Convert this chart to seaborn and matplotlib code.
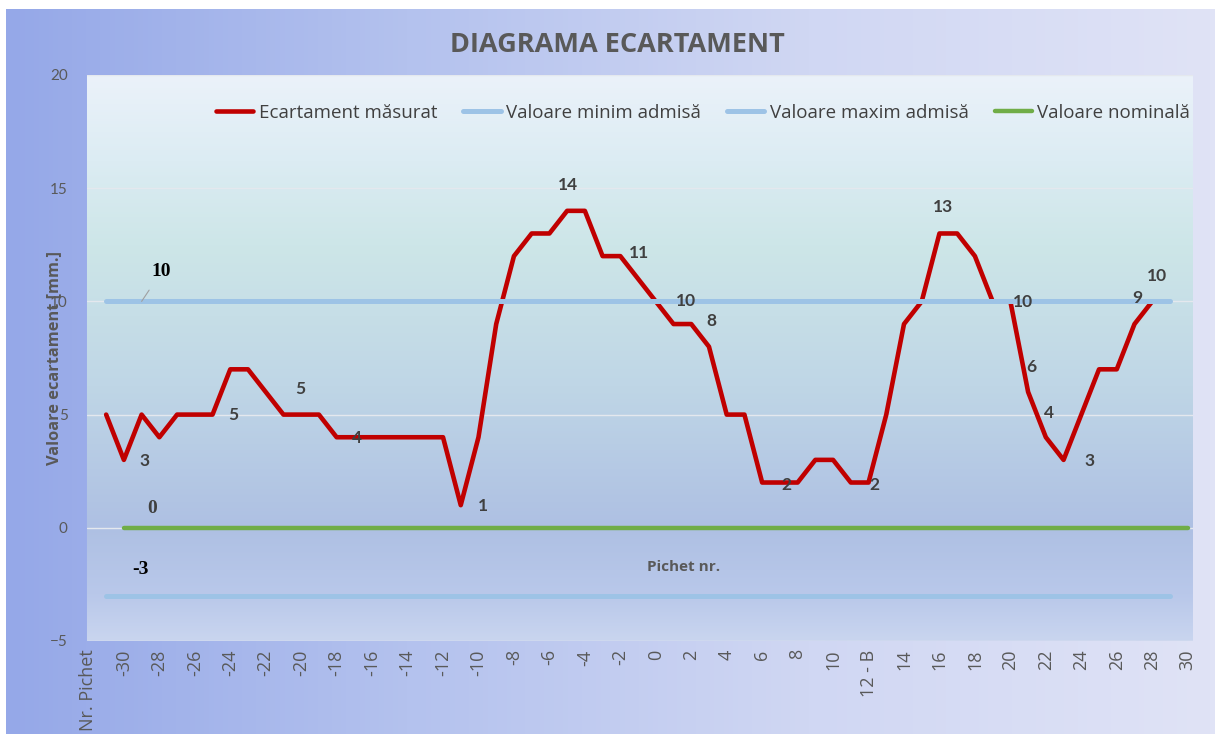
import numpy as np
import pandas as pd
import seaborn as sns
import matplotlib.pyplot as plt
from matplotlib.colors import LinearSegmentedColormap

# categories on the x axis (index 1 is not labelled in the original)
pichet = ["Nr. Pichet"] + [str(k) for k in range(-31, 12)] + ["12 - B"] + [str(k) for k in range(13, 31)]

measured = [5, 3, 5, 4, 5, 5, 5, 7, 7, 6, 5, 5, 5, 4,
            4, 4, 4, 4, 4, 4,
            1, 4, 9, 12, 13, 13, 14, 14, 12, 12, 11, 10, 9, 9, 8, 5, 5,
            2, 2, 2, 3, 3, 2, 2, 5, 9, 10, 13, 13, 12, 10, 10,
            6, 4, 3, 5, 7, 7, 9, 10]
min_admis = -3
max_admis = 10
nominal = 0

series_names = ["Ecartament măsurat", "Valoare minim admisă",
                "Valoare maxim admisă", "Valoare nominală"]

pos = np.arange(len(pichet))
df_meas = pd.DataFrame({"x": pos[1:61], "y": measured})
df_min = pd.DataFrame({"x": pos[1:62], "y": [min_admis] * 61})
df_max = pd.DataFrame({"x": pos[1:62], "y": [max_admis] * 61})
df_nom = pd.DataFrame({"x": pos[2:63], "y": [nominal] * 61})

sns.set_style("white")
plt.rcParams["font.family"] = ["Lato", "DejaVu Sans"]
wide = ["Open Sans", "DejaVu Sans"]

W, H = 1215, 734
fig = plt.figure(figsize=(W / 100, H / 100), dpi=100)
fig.patch.set_facecolor("white")

# figure background: horizontal gradient
bg = fig.add_axes([6 / W, 0, 1 - 6 / W, 1 - 9 / H], zorder=-10)
bg_cmap = LinearSegmentedColormap.from_list("bg", ["#95a8e8", "#b4c2ee", "#d0d7f3", "#e0e3f6"])
bg.imshow(np.linspace(0, 1, 256)[None, :], cmap=bg_cmap, aspect="auto", extent=[0, 1, 0, 1])
bg.set_axis_off()

# plot area
ax = fig.add_axes([87 / W, (H - 641) / H, (1193 - 87) / W, (641 - 75) / H])
xlim = (-0.08, 62.3)
ylim = (-5, 20)
pa_cmap = LinearSegmentedColormap.from_list(
    "pa", [(0.0, "#c9d5ef"), (0.08, "#b9c8ea"), (0.2, "#aec0e3"),
           (0.45, "#bfd6e6"), (0.7, "#cde6e8"), (0.85, "#dcecf3"), (1.0, "#ebf2fa")])
ax.imshow(np.linspace(0, 1, 256)[:, None], cmap=pa_cmap, origin="lower", aspect="auto",
          extent=[xlim[0], xlim[1], ylim[0], ylim[1]], zorder=0)

ax.yaxis.grid(True, color="#e4e8ee", lw=1, zorder=1)
ax.set_axisbelow(True)

sns.lineplot(data=df_meas, x="x", y="y", ax=ax, color="#c00000", lw=3.3,
             label=series_names[0], zorder=3, solid_capstyle="round", solid_joinstyle="round")
sns.lineplot(data=df_min, x="x", y="y", ax=ax, color="#9dc3e6", lw=3.6,
             label=series_names[1], zorder=3, solid_capstyle="round")
sns.lineplot(data=df_max, x="x", y="y", ax=ax, color="#9dc3e6", lw=3.6,
             label=series_names[2], zorder=3, solid_capstyle="round")
sns.lineplot(data=df_nom, x="x", y="y", ax=ax, color="#70ad47", lw=3.2,
             label=series_names[3], zorder=3, solid_capstyle="round")

ax.set_xlim(*xlim)
ax.set_ylim(*ylim)
for s in ax.spines.values():
    s.set_visible(False)

ax.set_yticks(range(-5, 21, 5))
ax.set_xticks(pos[::2])
ax.set_xticklabels(pichet[::2], rotation=90, va="top", ha="center")
ax.tick_params(axis="both", length=0, colors="#595959")
ax.tick_params(axis="x", pad=6, labelsize=13, labelfontfamily="Open Sans")
ax.tick_params(axis="y", pad=14, labelsize=11)
ax.set_xlabel("")
ax.set_ylabel("")

# data labels of the measured series: (index, dx px, dy px)
red_labels = [(2, 21, -1), (7, 21, 0), (12, -1, 26), (14, 20, -1), (21, 22, -1),
              (27, 1, 26), (31, 1, 26), (32, 30, 0), (35, 2, 26), (38, 24, -2),
              (44, 6, -2), (48, 4, 26), (52, 13, -1), (53, 3, 25), (54, 3, 24),
              (55, 26, -1), (59, 3, 26), (60, 5, 25)]
for i, dx, dy in red_labels:
    v = measured[i - 1]
    ax.annotate(str(v), (i, v), xytext=(dx, dy), textcoords="offset pixels",
                ha="center", va="center", fontsize=12.5, fontweight="bold",
                color="#404040", zorder=5)

# labels of the limit lines
ax.annotate(str(max_admis), (3, max_admis), xytext=(20, 30), textcoords="offset pixels",
            ha="center", va="center", fontsize=14, fontweight="bold", color="black",
            family="Liberation Serif", zorder=5,
            arrowprops=dict(arrowstyle="-", color="#a0a0a0", lw=0.8, shrinkA=6, shrinkB=0))
ax.annotate(str(nominal), (3, nominal), xytext=(11, 19), textcoords="offset pixels",
            ha="center", va="center", fontsize=14, fontweight="bold", color="#404040",
            family="Liberation Serif", zorder=5)
ax.annotate(str(min_admis), (3, min_admis), xytext=(-1, 26), textcoords="offset pixels",
            ha="center", va="center", fontsize=14, fontweight="bold", color="black",
            family="Liberation Serif", zorder=5)

ax.text(0.539, (641 - 567) / 566, "Pichet nr.", transform=ax.transAxes, ha="center",
        va="center", fontsize=11, fontweight="bold", color="#595959", family=wide)

fig.text(54 / W, 1 - 358 / H, "Valoare ecartament [mm.]", rotation=90, ha="center",
         va="center", fontsize=11.8, fontweight="bold", color="#595959", family=wide)
fig.text(617 / W, 1 - 45 / H, "DIAGRAMA ECARTAMENT", ha="center", va="center",
         fontsize=19.5, fontweight="bold", color="#595959", family=wide)

ax.legend(loc="center", bbox_to_anchor=(0.557, (641 - 113) / 566), ncol=4, frameon=False,
          prop={"family": wide, "size": 13.5}, handlelength=2.0, handletextpad=0.27,
          columnspacing=1.4, labelcolor="#404040")

fig.savefig("out.png", dpi=100)
